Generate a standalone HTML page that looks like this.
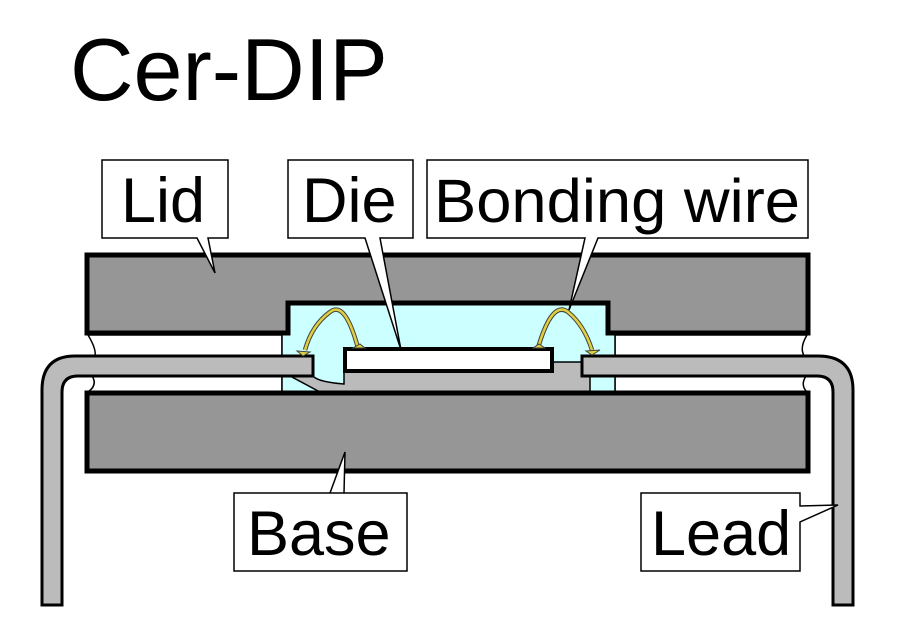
<!DOCTYPE html>
<html><head><style>
html,body{margin:0;padding:0;background:#fff;}
svg{display:block;}
text{font-family:"Liberation Sans",Arial,sans-serif;fill:#000;}
</style></head><body>
<svg width="900" height="640" viewBox="0 0 900 640" xmlns="http://www.w3.org/2000/svg">
<text x="70" y="100" font-size="88">Cer-DIP</text>

<path d="M88,335 Q100,355 92,360 L282,360 L282,335 Z" fill="#fff" stroke="#000" stroke-width="1.5"/>
<path d="M92,376 Q98,385 88,392 L282,392 L282,376 Z" fill="#fff" stroke="#000" stroke-width="1.5"/>
<path d="M807,335 Q798,350 806,358 L615,358 L615,335 Z" fill="#fff" stroke="#000" stroke-width="1.5"/>
<path d="M806,376 Q800,385 807,392 L615,392 L615,376 Z" fill="#fff" stroke="#000" stroke-width="1.5"/>

<rect x="282" y="303" width="333" height="89" fill="#ccffff" stroke="#000" stroke-width="1.5"/>

<path d="M313,376 Q318,382 344,384 L344,371 L552,371 L552,362 L590,362 L590,392 L320,392 L290,376 Z" fill="#bbbbbb" stroke="#000" stroke-width="1.5"/>

<path d="M87,255 L808,255 L808,333 L608,333 L608,303 L288,303 L288,333 L87,333 Z" fill="#969696" stroke="#000" stroke-width="5"/>

<rect x="87" y="393" width="721" height="78" fill="#969696" stroke="#000" stroke-width="5"/>

<path d="M313,356 L75,356 Q42,356 42,390 L42,605 L62,605 L62,392 Q62,376 78,376 L313,376 Z" fill="#bbbbbb" stroke="#000" stroke-width="3"/>
<path d="M582,356 L818,356 Q853,356 853,390 L853,605 L833,605 L833,392 Q833,376 817,376 L582,376 Z" fill="#bbbbbb" stroke="#000" stroke-width="3"/>

<rect x="345" y="349" width="207" height="22" fill="#fff" stroke="#000" stroke-width="4"/>

<path d="M358,348 Q345,300 330,312 Q312,325 305,350" fill="none" stroke="#444" stroke-width="4.5"/>
<path d="M358,348 Q345,300 330,312 Q312,325 305,350" fill="none" stroke="#e0d040" stroke-width="2.5"/>
<path d="M297,351 L310,352 L303,356 Z" fill="#e0d040" stroke="#444" stroke-width="1"/>
<path d="M353,348 L365,348 L360,344 Z" fill="#e0d040" stroke="#444" stroke-width="1"/>
<path d="M538,348 Q552,300 568,312 Q584,325 592,350" fill="none" stroke="#444" stroke-width="4.5"/>
<path d="M538,348 Q552,300 568,312 Q584,325 592,350" fill="none" stroke="#e0d040" stroke-width="2.5"/>
<path d="M586,351 L600,350 L592,355 Z" fill="#e0d040" stroke="#444" stroke-width="1"/>
<path d="M533,348 L545,348 L539,344 Z" fill="#e0d040" stroke="#444" stroke-width="1"/>

<path d="M102,160 L228,160 L228,238 L208,238 L215,273 L197,238 L102,238 Z" fill="#fff" stroke="#000" stroke-width="1.5"/>
<text x="121" y="222" font-size="63">Lid</text>

<path d="M288,160 L413,160 L413,238 L380,238 L401,350 L365,238 L288,238 Z" fill="#fff" stroke="#000" stroke-width="1.5"/>
<text x="302" y="222" font-size="63">Die</text>

<path d="M427,160 L808,160 L808,238 L598,238 L569,310 L585,238 L427,238 Z" fill="#fff" stroke="#000" stroke-width="1.5"/>
<text x="434" y="222" font-size="61" textLength="366" lengthAdjust="spacingAndGlyphs">Bonding wire</text>

<path d="M234,493 L407,493 L407,571 L234,571 L234,493 L330,493 L345,452 L344,493 Z" fill="#fff" stroke="#000" stroke-width="1.5"/>
<text x="247" y="555" font-size="63">Base</text>

<path d="M641,493 L800,493 L800,506 L838,505 L800,522 L800,571 L641,571 Z" fill="#fff" stroke="#000" stroke-width="1.5"/>
<text x="651" y="555" font-size="63">Lead</text>
</svg>
</body></html>
